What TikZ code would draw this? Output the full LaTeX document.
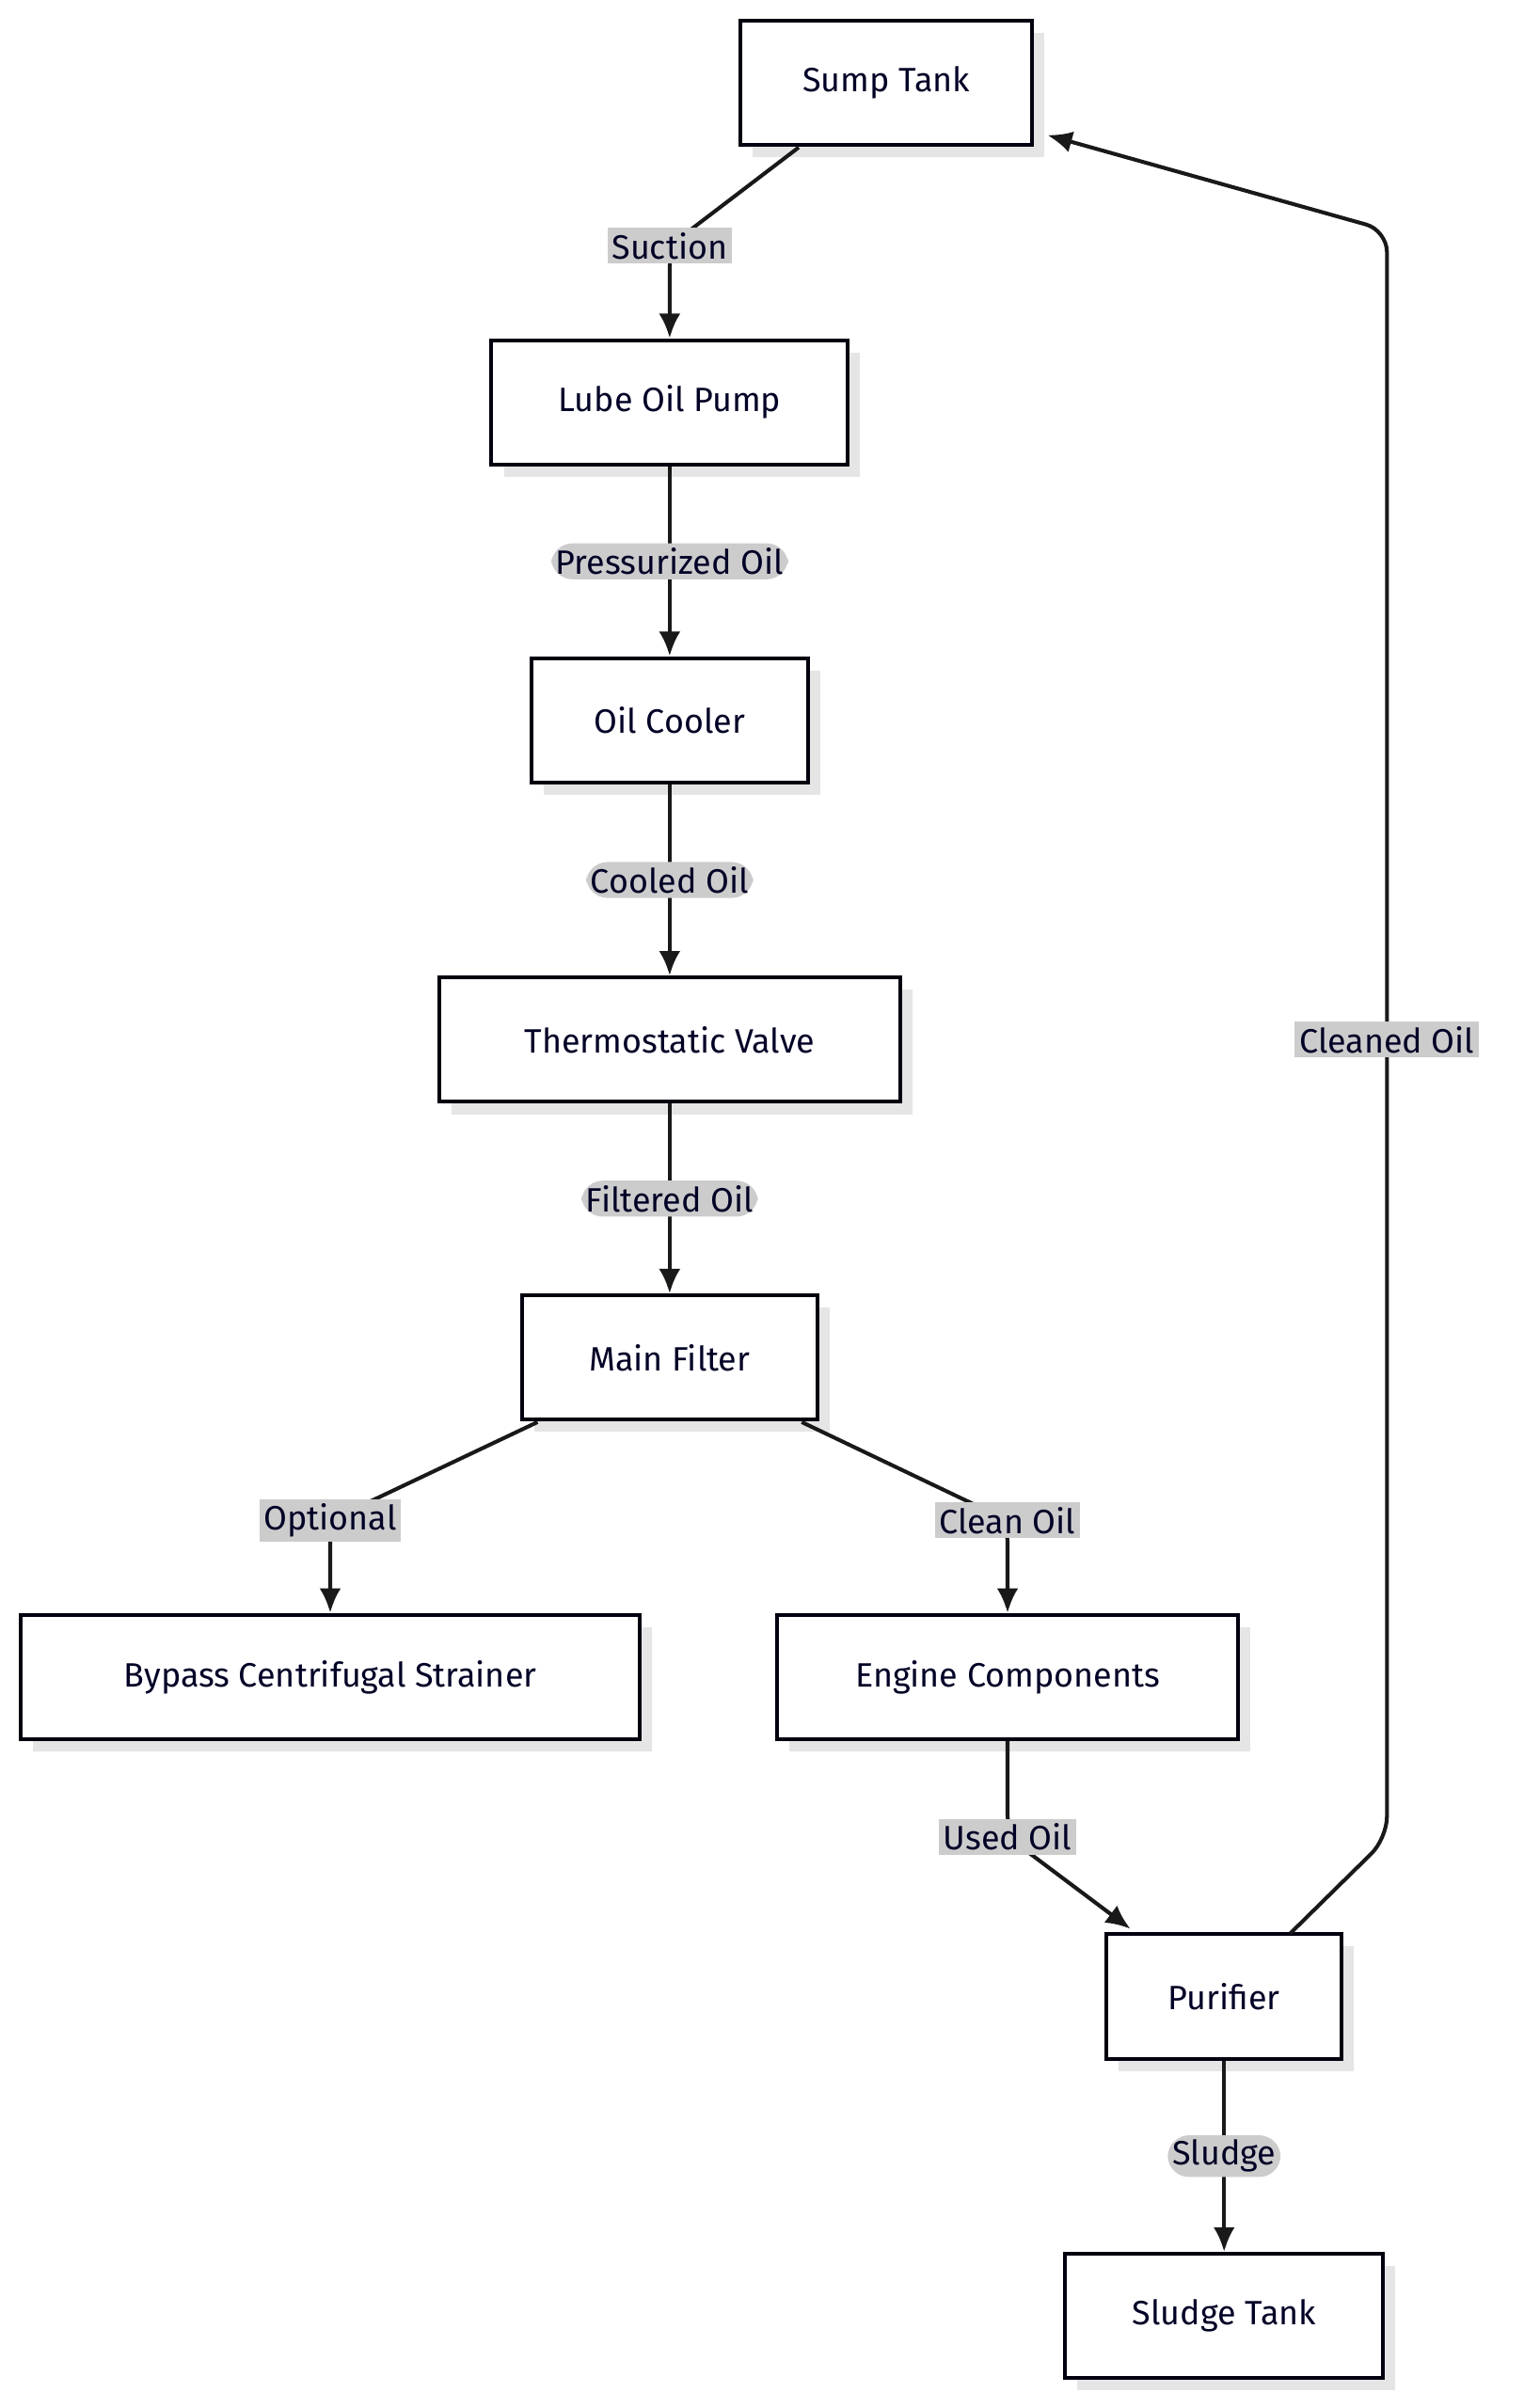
\documentclass[tikz,border=0pt]{standalone}
\usepackage{fontspec}
\setmainfont{Fira Sans}
\usetikzlibrary{arrows.meta}
\begin{document}
\begin{tikzpicture}[x=1pt,y=-1pt,
  box/.style={draw=black!85!blue!40!black,line width=2.5pt,fill=white,minimum height=81pt,inner xsep=0pt,font=\fontsize{22}{26}\selectfont,text=black!85!blue,
    append after command={}},
  lab/.style={fill=black!20,inner sep=3pt,font=\fontsize{22}{26}\selectfont,text=black!85!blue},
  e/.style={line width=2.5pt,draw=black!90,-{Latex[length=16pt,width=14pt]},rounded corners=14pt}]
\useasboundingbox (0,0) rectangle (992,1568);
\def\bx#1#2#3#4{%
  \fill[black!10] (#2-#3/2+8,#4-40.5+8) rectangle (#2+#3/2+8,#4+40.5+8);
  \node[box,minimum width=#3pt] (#1) at (#2,#4) {};}
\bx{sump}{577}{190}{54}
\bx{pump}{436}{232}{262}
\bx{cool}{436}{180}{469}
\bx{valve}{436}{300}{677}
\bx{filt}{436}{192}{884}
\bx{byp}{215}{403}{1092}
\bx{eng}{656}{300}{1092}
\bx{pur}{797}{153}{1300}
\bx{slud}{797}{207}{1508}
\node[lab,fill=none] at (sump) {Sump Tank};
\node[lab,fill=none] at (pump) {Lube Oil Pump};
\node[lab,fill=none] at (cool) {Oil Cooler};
\node[lab,fill=none] at (valve) {Thermostatic Valve};
\node[lab,fill=none] at (filt) {Main Filter};
\node[lab,fill=none] at (byp) {Bypass Centrifugal Strainer};
\node[lab,fill=none] at (eng) {Engine Components};
\node[lab,fill=none] at (pur) {Purifier};
\node[lab,fill=none] at (slud) {Sludge Tank};
\coordinate (c1) at (436,160);
\coordinate (c2) at (215,990);
\coordinate (c3) at (656,990);
\coordinate (c4) at (656,1196);
\coordinate (c5) at (903,1197);
\coordinate (c6) at (903,150);
\draw[e] (520,96) -- (c1) -- (pump.north);
\node[lab] at (c1) {Suction};
\draw[e] (pump) -- (cool) node[midway,lab]{Pressurized Oil};
\draw[e] (cool) -- (valve) node[midway,lab]{Cooled Oil};
\draw[e] (valve) -- (filt) node[midway,lab]{Filtered Oil};
\draw[e] (350,926) -- (c2) -- (byp.north);
\node[lab] at (c2) {Optional};
\draw[e] (522,926) -- (c3) -- (eng.north);
\node[lab] at (c3) {Clean Oil};
\draw[e] (eng.south) -- (c4) -- (736,1256);
\node[lab] at (c4) {Used Oil};
\draw[e] (pur) -- (slud) node[midway,lab]{Sludge};
\draw[e] (840,1259) -- (c5) -- (c6) -- (682,88);
\node[lab] at (903,677) {Cleaned Oil};
\end{tikzpicture}
\end{document}
